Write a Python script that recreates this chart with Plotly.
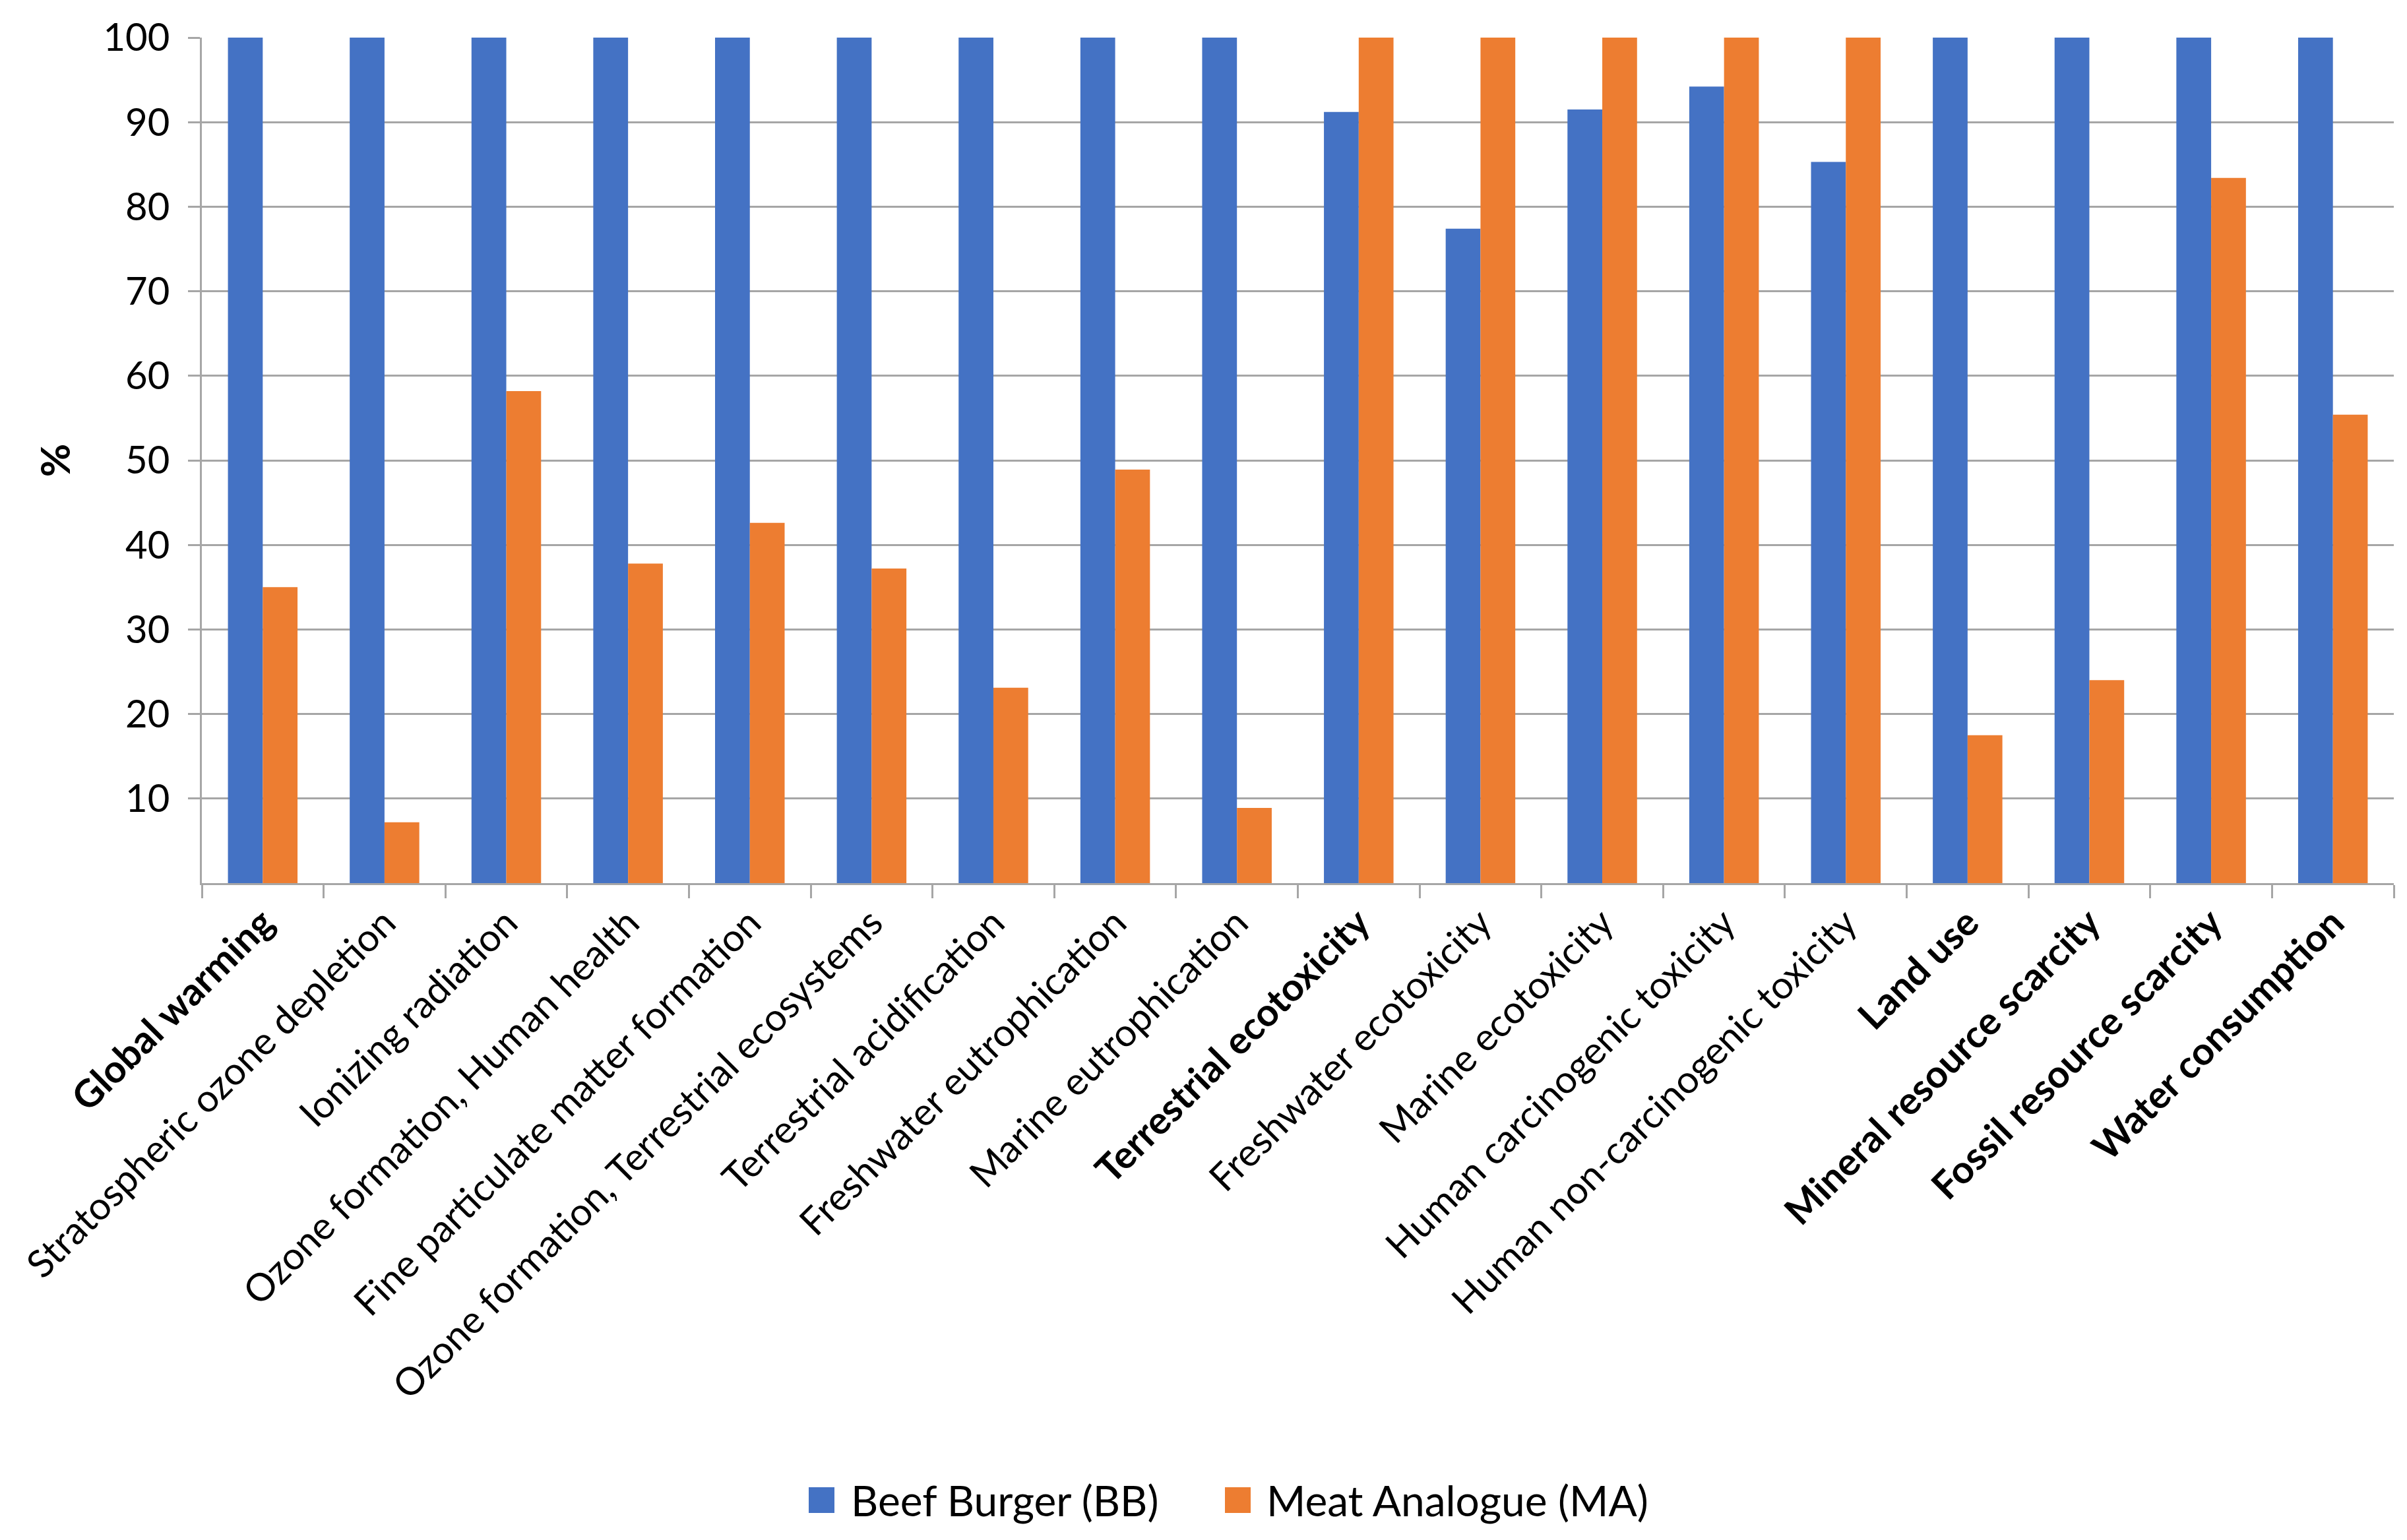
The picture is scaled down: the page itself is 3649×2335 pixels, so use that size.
import plotly.graph_objects as go

categories = [
    "Global warming", "Stratospheric ozone depletion", "Ionizing radiation",
    "Ozone formation, Human health", "Fine particulate matter formation",
    "Ozone formation, Terrestrial ecosystems", "Terrestrial acidification",
    "Freshwater eutrophication", "Marine eutrophication", "Terrestrial ecotoxicity",
    "Freshwater ecotoxicity", "Marine ecotoxicity", "Human carcinogenic toxicity",
    "Human non-carcinogenic toxicity", "Land use", "Mineral resource scarcity",
    "Fossil resource scarcity", "Water consumption",
]
bold_categories = ["Global warming", "Terrestrial ecotoxicity", "Land use",
                   "Mineral resource scarcity", "Fossil resource scarcity",
                   "Water consumption"]
beef_burger = [100, 100, 100, 100, 100, 100, 100, 100, 100,
               91.2, 77.4, 91.5, 94.2, 85.3, 100, 100, 100, 100]
meat_analogue = [35.0, 7.2, 58.2, 37.8, 42.6, 37.2, 23.1, 48.9, 8.9,
                 100, 100, 100, 100, 100, 17.5, 24.0, 83.4, 55.4]
series_names = ["Beef Burger (BB)", "Meat Analogue (MA)"]
series_colors = ["#4472C4", "#ED7D31"]
y_ticks = [10, 20, 30, 40, 50, 60, 70, 80, 90, 100]

ticktext = [f"<b>{c}</b>" if c in bold_categories else c for c in categories]

W, H = 3649, 2335
ML, MR, MT, MB = 298, 28, 47, 1004
FONT = "Lato"
GRID = "#a6a6a6"

plot_w = W - ML - MR
plot_h = H - MT - MB


def px_to_paper_x(px):
    return (px - ML) / plot_w


def px_to_paper_y(py):
    return (H - MB - py) / plot_h


fig = go.Figure()
for name, vals, col in zip(series_names, [beef_burger, meat_analogue], series_colors):
    fig.add_trace(go.Bar(x=categories, y=vals, name=name, showlegend=False,
                         marker=dict(color=col, line=dict(width=0))))

# custom legend (large square swatches like the original)
legend_y = 2268
swatch = 39
legend_items = [(1218, 1280), (1849, 1910)]  # swatch left, text left (pixels)
for (sx, tx), name, col in zip(legend_items, series_names, series_colors):
    fig.add_shape(type="rect", xref="paper", yref="paper",
                  x0=px_to_paper_x(sx), x1=px_to_paper_x(sx + swatch),
                  y0=px_to_paper_y(legend_y + swatch / 2), y1=px_to_paper_y(legend_y - swatch / 2),
                  fillcolor=col, line=dict(width=0))
    fig.add_annotation(xref="paper", yref="paper", x=px_to_paper_x(tx), y=px_to_paper_y(legend_y),
                       xanchor="left", yanchor="middle", text=name, showarrow=False,
                       font=dict(size=64, family=FONT, color="black"))

fig.update_layout(
    width=W, height=H,
    paper_bgcolor="white", plot_bgcolor="white",
    margin=dict(l=ML, r=MR, t=MT, b=MB),
    barmode="group", bargap=1.5 / 3.5, bargroupgap=0,
    font=dict(family=FONT, size=58, color="black"),
    showlegend=False,
)
fig.update_xaxes(
    type="category", tickvals=categories, ticktext=ticktext, tickangle=-45,
    tickson="boundaries", ticks="outside", ticklen=20, tickwidth=3, tickcolor=GRID,
    showline=True, linecolor=GRID, linewidth=3, showgrid=False,
    tickfont=dict(size=58, family=FONT),
)
fig.update_yaxes(
    range=[0, 100], tickvals=y_ticks, ticks="outside", ticklen=18, tickwidth=3,
    tickcolor=GRID, showline=True, linecolor=GRID, linewidth=3,
    showgrid=True, gridcolor=GRID, gridwidth=3, zeroline=False,
    tickfont=dict(size=58, family=FONT), ticklabelstandoff=16,
    title=dict(text="<b>%</b>", font=dict(size=62, family=FONT), standoff=30),
)

fig.write_html("out.html")
